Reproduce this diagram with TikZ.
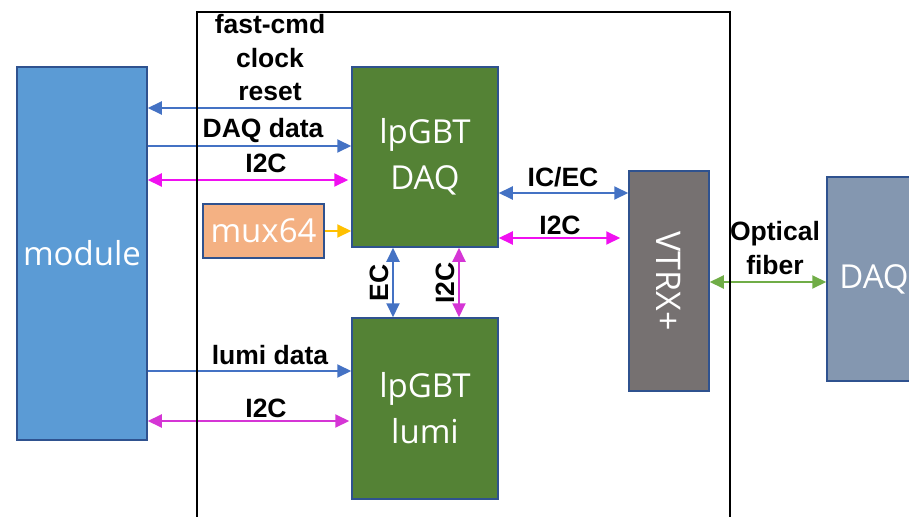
\documentclass[tikz,border=0pt]{standalone}
\usepackage{fontspec}
\setmainfont{Liberation Sans}
\newfontfamily\boxfont{Open Sans}
\usetikzlibrary{arrows.meta}
\definecolor{modblue}{HTML}{5B9BD5}
\definecolor{gbtgreen}{HTML}{548235}
\definecolor{muxorange}{HTML}{F4B183}
\definecolor{vtrxgray}{HTML}{767171}
\definecolor{daqblue}{HTML}{8497B0}
\definecolor{bordcol}{HTML}{2F528F}
\definecolor{linkblue}{HTML}{4472C4}
\definecolor{linkmag}{HTML}{F010F0}
\definecolor{linkmagb}{HTML}{D535D5}
\definecolor{linkgreen}{HTML}{70AD47}
\definecolor{linkorange}{HTML}{FFC000}
\tikzset{
  blockbox/.style={draw=bordcol, line width=1.5pt, inner sep=0pt, text=white, align=center,
    font=\boxfont\fontsize{33}{46}\selectfont},
  lbl/.style={inner sep=0pt, align=center, font=\bfseries\fontsize{26.5}{33.5}\selectfont},
  link/.style={line width=2pt, -{Triangle[length=14pt,width=13pt]}},
  dlink/.style={line width=2pt, {Triangle[length=14pt,width=13pt]}-{Triangle[length=14pt,width=13pt]}},
}
\begin{document}
\begin{tikzpicture}[x=1pt,y=-1pt]
\useasboundingbox (0,0) rectangle (909,516);
% blocks
\node[blockbox, fill=modblue, minimum width=130pt, minimum height=373pt] (module) at (82,253.5) {module};
\node[blockbox, fill=gbtgreen, minimum width=146pt, minimum height=180pt] (gdaq) at (425,157) {lpGBT\\DAQ};
\node[blockbox, fill=gbtgreen, minimum width=146pt, minimum height=181pt] (glumi) at (425,408.5) {lpGBT\\lumi};
\node[blockbox, fill=muxorange, minimum width=121pt, minimum height=54pt] (mux) at (263.5,231) {mux64};
\node[blockbox, fill=vtrxgray, minimum width=80pt, minimum height=220pt] (vtrx) at (669,281) {};
\node[text=white, font=\boxfont\fontsize{34}{46}\selectfont, rotate=-90, inner sep=0pt] (vtrxt) at (vtrx.center) {VTRX+};
\node[blockbox, fill=daqblue, minimum width=94pt, minimum height=204pt] (daq) at (874,279) {DAQ};
% connectors
\draw[link, linkblue] (gdaq.west |- 0,108) -- (module.east |- 0,108);
\draw[link, linkblue] (module.east |- 0,146) -- (gdaq.west |- 0,146);
\draw[dlink, linkmag, shorten >=3pt] (module.east |- 0,180) -- (gdaq.west |- 0,180);
\draw[link, linkorange] (mux.east) -- (gdaq.west |- mux.east);
\draw[dlink, linkblue] (gdaq.south -| 393,0) -- (glumi.north -| 393,0);
\draw[dlink, linkmagb] (gdaq.south -| 459,0) -- (glumi.north -| 459,0);
\draw[dlink, linkblue] (gdaq.east |- 0,193) -- (vtrx.west |- 0,193);
\draw[dlink, linkmag, shorten >=8pt] (gdaq.east |- 0,238) -- (vtrx.west |- 0,238);
\draw[dlink, linkgreen] (vtrx.east |- 0,282) -- (daq.west |- 0,282);
\draw[link, linkblue] (module.east |- 0,371) -- (glumi.west |- 0,371);
\draw[dlink, linkmagb, shorten >=2pt] (module.east |- 0,421) -- (glumi.west |- 0,421);
% labels
\node[lbl] (l1) at (270,58) {fast-cmd\\clock\\reset};
\node[lbl] (l2) at (263,131) {DAQ data};
\node[lbl] (l3) at (266,163) {I2C};
\node[lbl, rotate=90] (l4) at (379,283) {EC};
\node[lbl, rotate=90] (l5) at (445,283) {I2C};
\node[lbl] (l6) at (563,177) {IC/EC};
\node[lbl] (l7) at (560,225) {I2C};
\node[lbl] (l8) at (775,248) {Optical\\fiber};
\node[lbl] (l9) at (270,355) {lumi data};
\node[lbl] (l10) at (266,408) {I2C};
% frame
\draw[line width=2pt] (197,12) rectangle (730,540);
\end{tikzpicture}
\end{document}
